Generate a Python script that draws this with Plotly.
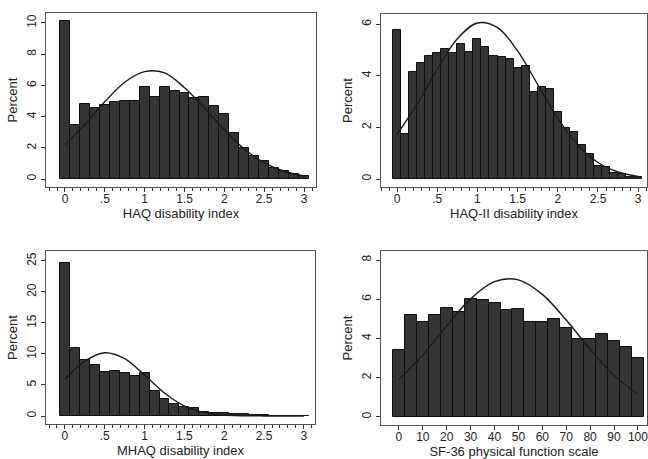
import plotly.graph_objects as go

# ---------------- data ----------------
haq_bins = [i * 0.125 for i in range(25)]
haq_pct = [10.1, 3.45, 4.84, 4.57, 4.74, 4.93, 5.03, 4.99, 5.9, 5.28, 5.9, 5.67,
           5.52, 5.2, 5.26, 4.71, 4.14, 2.98, 1.97, 1.5, 1.14, 0.72, 0.49, 0.34, 0.19]
haq_curve_x = [0, 0.25, 0.5, 0.75, 1.0, 1.25, 1.5, 1.75, 2.0, 2.25, 2.5, 2.75, 3.0]
haq_curve_y = [2.2, 3.5, 4.95, 6.2, 6.88, 6.8, 5.85, 4.55, 3.15, 1.92, 1.04, 0.5, 0.2]

haq2_bins = [i * 0.1 for i in range(31)]
haq2_pct = [5.77, 1.75, 4.13, 4.51, 4.75, 4.88, 5.05, 4.88, 5.23, 4.9, 5.42, 5.12,
            4.75, 4.71, 4.64, 4.29, 4.38, 3.36, 3.56, 3.49, 2.61, 1.99, 1.81, 1.32,
            0.96, 0.5, 0.48, 0.25, 0.19, 0.09, 0.09]
haq2_curve_x = [0, 0.25, 0.5, 0.75, 1.0, 1.25, 1.5, 1.75, 2.0, 2.25, 2.5, 2.75, 3.0]
haq2_curve_y = [1.73, 2.9, 4.25, 5.43, 6.04, 5.86, 4.96, 3.66, 2.35, 1.32, 0.64, 0.27, 0.1]

mhaq_bins = [i * 0.125 for i in range(25)]
mhaq_pct = [24.7, 10.9, 9.0, 8.3, 7.1, 7.3, 7.0, 6.5, 6.9, 4.0, 2.7, 1.9, 1.4, 1.3,
            0.7, 0.55, 0.5, 0.35, 0.3, 0.15, 0.1, 0.07, 0.05, 0.04, 0.03]
mhaq_curve_x = [0, 0.25, 0.5, 0.75, 1.0, 1.25, 1.5, 1.75, 2.0, 2.25, 2.5, 2.75, 3.0]
mhaq_curve_y = [5.95, 8.85, 10.2, 9.25, 6.6, 3.7, 1.6, 0.55, 0.15, 0.04, 0.01, 0.0, 0.0]

sf36_bins = [i * 5 for i in range(21)]
sf36_pct = [3.42, 5.19, 4.82, 5.19, 5.53, 5.36, 6.01, 5.96, 5.79, 5.45, 5.48, 4.82,
            4.86, 4.97, 4.52, 3.96, 3.96, 4.21, 3.89, 3.57, 2.99]
sf36_curve_x = [0, 10, 20, 30, 40, 50, 60, 70, 80, 90, 100]
sf36_curve_y = [1.9, 3.16, 4.64, 6.02, 6.9, 6.99, 6.25, 4.94, 3.45, 2.13, 1.16]

idx_tickvals = [0, 0.5, 1, 1.5, 2, 2.5, 3]
idx_ticktext = ["0", ".5", "1", "1.5", "2", "2.5", "3"]
sf_tickvals = [0, 10, 20, 30, 40, 50, 60, 70, 80, 90, 100]

titles = ["HAQ disability index", "HAQ-II disability index",
          "MHAQ disability index", "SF-36 physical function scale"]

# ---------------- figure ----------------
FONT = "Liberation Sans, Arial, Helvetica, sans-serif"
BAR_FILL = "#343434"
BAR_EDGE = "#0e0e0e"
CURVE = "#1a1a1a"

panels = [
    (haq_bins, haq_pct, 0.125, haq_curve_x, haq_curve_y),
    (haq2_bins, haq2_pct, 0.1, haq2_curve_x, haq2_curve_y),
    (mhaq_bins, mhaq_pct, 0.125, mhaq_curve_x, mhaq_curve_y),
    (sf36_bins, sf36_pct, 5, sf36_curve_x, sf36_curve_y),
]

fig = go.Figure()
for i, (bx, by, bw, cx, cy) in enumerate(panels):
    sfx = "" if i == 0 else str(i + 1)
    fig.add_trace(go.Bar(
        x=bx, y=by, width=bw, xaxis="x" + sfx, yaxis="y" + sfx,
        marker=dict(color=BAR_FILL, line=dict(color=BAR_EDGE, width=1)),
        showlegend=False, hoverinfo="skip"))
    fig.add_trace(go.Scatter(
        x=cx, y=cy, mode="lines", xaxis="x" + sfx, yaxis="y" + sfx,
        line=dict(color=CURVE, width=1.4, shape="spline"),
        showlegend=False, hoverinfo="skip"))

W, H = 648, 459
def xd(a, b):
    return [a / W, b / W]
def yd(top, bot):
    return [1 - bot / H, 1 - top / H]

common_axis = dict(
    showline=True, mirror=True, linecolor="#555555", linewidth=1,
    ticks="outside", ticklen=4, tickwidth=1, tickcolor="#333333",
    showgrid=False, zeroline=False, automargin=False,
    tickfont=dict(family=FONT, size=12, color="#222222"),
    ticklabeloverflow="allow",
    fixedrange=True,
)

def xaxis(domain, rng, anchor, tickvals, ticktext, title, minor):
    d = dict(common_axis, domain=domain, range=rng, anchor=anchor,
             tickmode="array", tickvals=tickvals, ticktext=ticktext,
             ticklabelstandoff=-3,
             title=dict(text=title, standoff=1,
                        font=dict(family=FONT, size=13, color="#222222")))
    if minor:
        d["minor"] = dict(dtick=0.1, tick0=0, ticks="outside", ticklen=3,
                          tickcolor="#333333", showgrid=False)
    return d

def yaxis(domain, rng, anchor, dtick):
    return dict(common_axis, domain=domain, range=rng, anchor=anchor,
                tickmode="linear", tick0=0, dtick=dtick, tickangle=-90,
                title=dict(text="Percent", standoff=4,
                           font=dict(family=FONT, size=13, color="#222222")))

fig.update_layout(
    width=W, height=H, margin=dict(l=0, r=0, t=0, b=0),
    paper_bgcolor="white", plot_bgcolor="white", bargap=0,
    font=dict(family=FONT, color="#222222"),
    xaxis=xaxis(xd(46, 316), [-0.238, 3.15], "y", idx_tickvals, idx_ticktext, titles[0], True),
    yaxis=yaxis(yd(13, 187), [-0.51, 10.64], "x", 2),
    xaxis2=xaxis(xd(381, 647), [-0.2, 3.11], "y2", idx_tickvals, idx_ticktext, titles[1], True),
    yaxis2=yaxis(yd(14, 187), [-0.31, 6.39], "x2", 2),
    xaxis3=xaxis(xd(46, 315), [-0.238, 3.14], "y3", idx_tickvals, idx_ticktext, titles[2], True),
    yaxis3=yaxis(yd(251, 424), [-1.29, 26.6], "x3", 5),
    xaxis4=xaxis(xd(381, 647), [-7.5, 103.8], "y4", sf_tickvals, [str(v) for v in sf_tickvals], titles[3], False),
    yaxis4=yaxis(yd(251, 425), [-0.41, 8.46], "x4", 2),
)

fig.write_html("out.html", config={"displayModeBar": False},
               post_script="document.body.style.margin='0';document.body.style.padding='0';")
